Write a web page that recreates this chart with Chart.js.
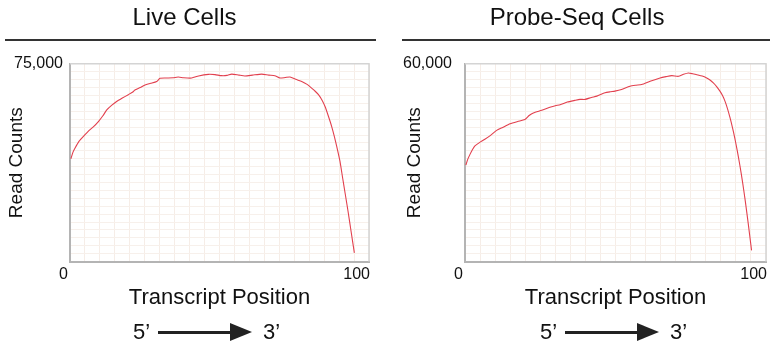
<!DOCTYPE html>
<html>
<head>
<meta charset="utf-8">
<script src="https://cdn.jsdelivr.net/npm/chart.js@4.4.1/dist/chart.umd.min.js"></script>
<style>
  body { margin: 0; width: 776px; height: 353px; background: #fff; position: relative; overflow: hidden;
         font-family: "Liberation Sans", Arial, Helvetica, sans-serif; color: #111; }
  canvas { position: absolute; top: 0; }
  #liveChart { left: 0; }
  #probeChart { left: 388px; }
  .rule { position: absolute; top: 39px; height: 2px; background: #333; }
  .prime { position: absolute; top: 320px; font-size: 22px; line-height: 24px; }
  .shaft { position: absolute; top: 331px; height: 3px; background: #222; }
  .head { position: absolute; top: 323px; width: 0; height: 0;
          border-top: 9px solid transparent; border-bottom: 9px solid transparent; border-left: 22px solid #222; }
</style>
</head>
<body>
<canvas id="liveChart" width="388" height="353"></canvas>
<canvas id="probeChart" width="388" height="353"></canvas>

<div class="rule" style="left:5px;width:371px"></div>
<div class="rule" style="left:402px;width:368px"></div>

<div class="prime" style="left:133px">5’</div>
<div class="shaft" style="left:158px;width:76px"></div>
<div class="head" style="left:230px"></div>
<div class="prime" style="left:263px">3’</div>

<div class="prime" style="left:540px">5’</div>
<div class="shaft" style="left:565px;width:76px"></div>
<div class="head" style="left:637px"></div>
<div class="prime" style="left:670px">3’</div>

<script>
// x = position along transcript (0-100), y = read counts
const livePos = [0.3, 1.0, 1.7, 3.0, 4.5, 6.0, 7.8, 9.5, 11.0, 12.3, 14.0, 15.6, 17.5, 19.5, 21.0, 21.7,
  23.5, 25.1, 27.0, 29.0, 30.1, 32.5, 34.5, 36.2, 38.0, 40.7, 43.0, 46.3, 48.5, 50.7, 52.5, 54.1,
  56.5, 58.5, 61.0, 64.1, 66.5, 68.5, 70.2, 72.0, 73.6, 75.5, 77.5, 79.3, 80.8, 82.0, 83.1, 84.3,
  85.3, 86.4, 87.5, 88.4, 89.2, 90.3, 91.2, 92.0, 93.0, 94.0, 95.1];
const liveCounts = [39000, 41500, 43100, 45600, 47500, 49300, 51100, 53100, 55300, 57500, 59300, 60700,
  62000, 63300, 64300, 65100, 66000, 67000, 67600, 68300, 69500, 69600, 69700, 70000, 69700, 69600,
  70400, 71000, 70900, 70500, 70600, 71100, 70700, 70400, 70700, 71100, 70700, 70500, 69600, 69800,
  70000, 69100, 68300, 67200, 65800, 64600, 63300, 61200, 58800, 55200, 51300, 47500, 43700, 38000,
  31600, 26000, 19000, 11500, 3300];

const probePos = [0.3, 0.9, 1.7, 2.5, 3.3, 4.8, 6.6, 8.5, 10.5, 12.5, 15.0, 17.5, 19.9, 21.3, 22.7,
  25.5, 28.2, 30.0, 31.6, 34.0, 36.5, 38.2, 39.9, 42.0, 43.8, 46.5, 48.2, 49.8, 52.0, 54.8, 56.8,
  58.7, 61.5, 64.8, 66.8, 68.7, 70.9, 72.6, 74.2, 75.6, 77.0, 78.8, 80.3, 81.5, 82.5, 83.6, 84.7,
  85.6, 86.4, 87.2, 88.0, 88.8, 89.6, 90.4, 91.3, 92.2, 93.1, 94.1, 95.2];
const probeCounts = [29300, 31000, 32600, 34000, 35100, 36100, 37100, 38300, 39800, 40700, 41800,
  42500, 43100, 44300, 45100, 45900, 46800, 47300, 47600, 48400, 48900, 49200, 49200, 49800, 50200,
  51200, 51500, 51700, 52200, 53200, 53500, 53700, 54700, 55700, 56100, 56400, 56200, 56800, 57200,
  57000, 56700, 56300, 55700, 55000, 54200, 53100, 51700, 50300, 48600, 46400, 43800, 40900, 37600,
  33900, 29300, 24200, 18500, 11500, 3400];

const xTickLabels = ['0', '100'];
const liveTop = '75,000';
const probeTop = '60,000';

Chart.defaults.font.family = '"Liberation Sans", Arial, Helvetica, sans-serif';
Chart.defaults.color = '#111';

// top and right edges of the plot box, lighter than the axes
const frame = {
  id: 'frame',
  beforeDatasetsDraw(chart) {
    const { ctx, chartArea: a } = chart;
    ctx.save();
    ctx.strokeStyle = '#d4d4d4';
    ctx.lineWidth = 1.5;
    ctx.beginPath();
    ctx.moveTo(a.left, a.top);
    ctx.lineTo(a.right, a.top);
    ctx.lineTo(a.right, a.bottom);
    ctx.stroke();
    ctx.restore();
  }
};

// only the end values are labelled, sitting off the corners
const cornerLabels = {
  id: 'cornerLabels',
  afterDraw(chart, args, opts) {
    const { ctx } = chart;
    const x = chart.scales.x, y = chart.scales.y;
    ctx.save();
    ctx.fillStyle = '#111';
    ctx.font = '16px "Liberation Sans", Arial, sans-serif';
    ctx.textBaseline = 'middle';
    ctx.textAlign = 'right';
    ctx.fillText(opts.top, x.getPixelForValue(0) - opts.topGap, y.getPixelForValue(y.max));
    ctx.fillText(xTickLabels[0], x.getPixelForValue(0) - 2, y.getPixelForValue(0) + 13);
    ctx.fillText(xTickLabels[1], x.getPixelForValue(100) + 1, y.getPixelForValue(0) + 13);
    ctx.restore();
  }
};

const makeChart = (id, title, pos, counts, yMax, yStep, topLabel, topGap, yPad, rightPad) => {
  return new Chart(document.getElementById(id), {
    type: 'line',
    data: {
      datasets: [{
        data: pos.map((p, i) => ({ x: p, y: counts[i] })),
        borderColor: '#e2404e',
        borderWidth: 1.1,
        pointRadius: 0,
        tension: 0.2,
        fill: false
      }]
    },
    options: {
      responsive: false,
      animation: false,
      devicePixelRatio: 1,
      layout: { padding: { left: 0, right: rightPad, top: 0, bottom: 0 } },
      plugins: {
        legend: { display: false },
        tooltip: { enabled: false },
        title: {
          display: true,
          text: title,
          color: '#111',
          font: { size: 24, weight: 'normal' },
          padding: { top: 4, bottom: 31 }
        },
        cornerLabels: { top: topLabel, topGap: topGap }
      },
      scales: {
        x: {
          type: 'linear',
          min: 0, max: 100,
          ticks: { display: false, stepSize: 5 },
          grid: { color: '#f6ede7', drawTicks: false },
          border: { color: '#b4b4b4', width: 2 },
          title: {
            display: true,
            text: 'Transcript Position',
            color: '#111',
            font: { size: 22 },
            padding: { top: 23, bottom: 42 }
          }
        },
        y: {
          min: 0, max: yMax,
          ticks: { display: false, stepSize: yStep },
          grid: { color: '#f7f0eb', drawTicks: false },
          border: { color: '#b4b4b4', width: 2 },
          title: {
            display: true,
            text: 'Read Counts',
            color: '#111',
            font: { size: 19 },
            padding: yPad
          }
        }
      }
    },
    plugins: [frame, cornerLabels]
  });
};

makeChart('liveChart', 'Live Cells', livePos, liveCounts, 75000, 3000, liveTop, 7,
  { top: 5.6, bottom: 41.6 }, 19);
makeChart('probeChart', 'Probe-Seq Cells', probePos, probeCounts, 60000, 2400, probeTop, 13,
  { top: 15.6, bottom: 38.6 }, 10);
</script>
</body>
</html>
